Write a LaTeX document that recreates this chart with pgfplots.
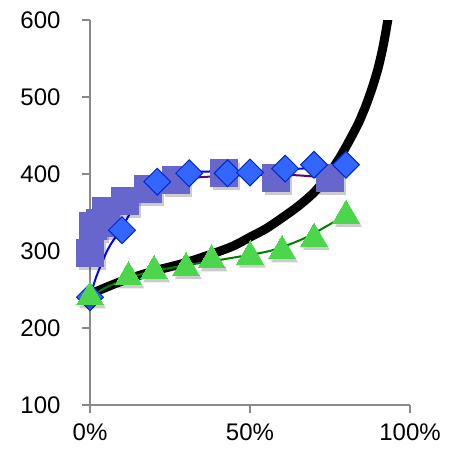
\documentclass[border=0pt]{standalone}
\usepackage{fontspec}
\setmainfont{Liberation Sans}
\usepackage{pgfplots}
\usepackage{pgfplotstable}
\pgfplotsset{compat=1.18}

\definecolor{sqfill}{RGB}{102,102,204}
\definecolor{dmfill}{RGB}{51,102,255}
\definecolor{dmline}{RGB}{0,40,200}
\definecolor{trifill}{RGB}{76,214,76}
\definecolor{axisgray}{RGB}{137,137,137}
\definecolor{trendpurple}{RGB}{102,0,102}
\definecolor{trendgreen}{RGB}{0,128,0}

% measured series
\pgfplotstableread{
x y
0 297
1 332
3 337
5 352
11 365
18 381
27 392
42 401
58 395
75 395
}\squares
\pgfplotstableread{
x y
0 240
10 327
21 390
31 401
43 401
50 402
61 407
70 412
80 412
}\diamonds
\pgfplotstableread{
x y
0 240
12 266
20 274
30 278
38 288
50 293
60 300
70 316
80 346
}\triangles
% reference curve
\pgfplotstableread{
x y
0 244
10 261
20 274
30 285
40 299
45 307
50 318
55 329
60 343
65 358
70 376
74 396
78 421
81 443
84 467
86.5 492
88.5 516
90 537
91.2 558
92.2 579
92.9 596
93.6 615
94.3 636
}\refcurve
% trend lines
\pgfplotstableread{
x y
0 314
3.6 345
8.9 368
15 384
19 388
23 391
29 394
37 396.5
45 398
60 399
69 397
75 393
}\trendsq
\pgfplotstableread{
x y
0 240
2 267
5.7 303
9.6 328
13 352
16 368
21 388
25 397
28 401
34 403
50 404
66 407
80 412
}\trenddm
\pgfplotstableread{
x y
0 240
5.7 254
16 270
26.5 279
37 286
47 293
57 301
67.7 318
80 347
}\trendtri

\pgfplotsset{
  shadow/.style={only marks, black, fill opacity=0.2, draw opacity=0,
    mark options={xshift=2.5pt, yshift=-3.5pt}},
}

\begin{document}
\begin{tikzpicture}
\useasboundingbox (0,0) rectangle (457pt,451pt);
\begin{axis}[
  at={(90pt,46pt)}, anchor=south west,
  scale only axis, width=320pt, height=385pt,
  xmin=0, xmax=100, ymin=100, ymax=600,
  axis lines*=left,
  axis line style={axisgray, line width=1.3pt},
  tick style={axisgray, line width=1.3pt},
  major tick length=8pt,
  tick align=outside,
  xtick={0,50,100}, xticklabels={0\%,50\%,100\%},
  ytick={100,200,...,600},
  /pgf/number format/assume math mode=true,
  tick label style={font=\fontsize{24}{28}\selectfont, black},
  yticklabel style={xshift=-18pt},
  xticklabel style={yshift=-7pt},
]
\addplot[black, line width=9pt, smooth, no markers] table {\refcurve};

% soft shadows under the markers, then the markers
\addplot[shadow, mark=square*, mark size=13.5pt] table {\squares};
\addplot[only marks, mark=square*, mark size=13.5pt, sqfill,
  mark options={fill=sqfill, draw=sqfill, line width=0pt}] table {\squares};

\addplot[shadow, mark=square*, mark size=9.5pt,
  mark options={rotate=45}] table {\diamonds};
\addplot[only marks, mark=square*, mark size=9.5pt, dmline,
  mark options={rotate=45, fill=dmfill, draw=dmline, line width=1pt}] table {\diamonds};

\addplot[shadow, mark=triangle*, mark size=15.5pt] table {\triangles};
\addplot[only marks, mark=triangle*, mark size=15.5pt, trifill,
  mark options={fill=trifill, draw=trifill, line width=0pt}] table {\triangles};

\addplot[trendpurple, line width=2pt, smooth, no markers] table {\trendsq};
\addplot[blue, line width=2pt, smooth, no markers] table {\trenddm};
\addplot[trendgreen, line width=2pt, smooth, no markers] table {\trendtri};
\end{axis}
\end{tikzpicture}
\end{document}
